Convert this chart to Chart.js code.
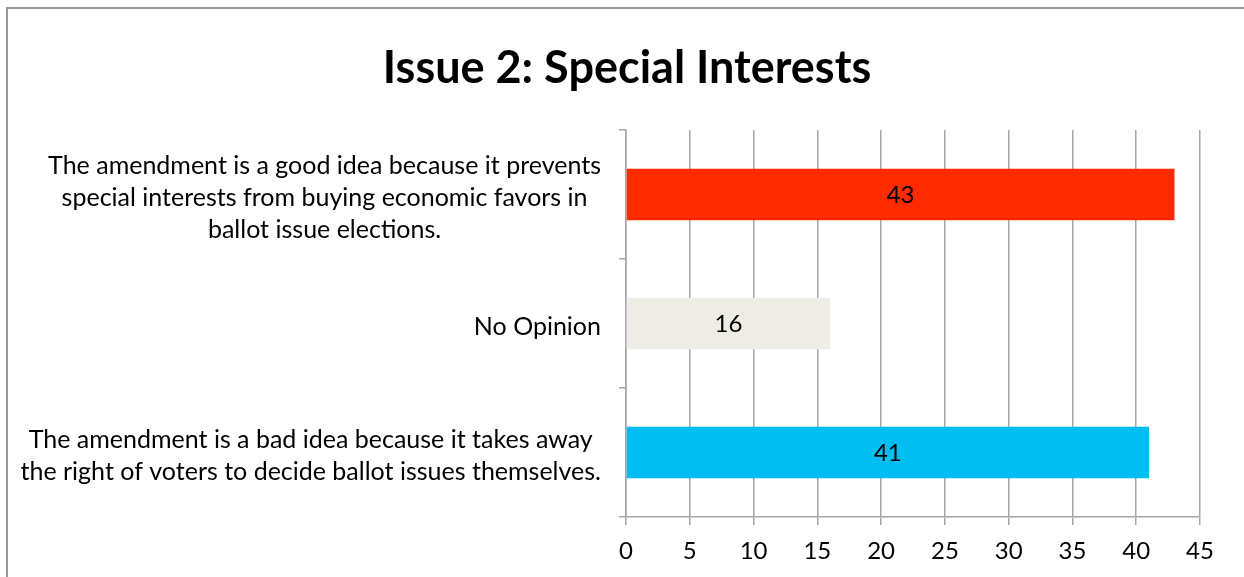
<!DOCTYPE html>
<html>
<head>
<meta charset="utf-8">
<script src="https://cdn.jsdelivr.net/npm/chart.js@4"></script>
<style>
  html, body { margin: 0; padding: 0; background: #fff; }
  #wrap { width: 1244px; height: 577px; position: relative; }
</style>
</head>
<body>
<div id="wrap"><canvas id="issueCanvas"></canvas></div>
<script>
const categories = [
    ["The amendment is a good idea because it prevents",
     "special interests from buying economic favors in",
     "ballot issue elections."],
    ["No Opinion"],
    ["The amendment is a bad idea because it takes away",
     "the right of voters to decide ballot issues themselves."]
];
const values = [43, 16, 41];
const barColors = ["#ff2a00", "#eeede5", "#00bdf2"];
const xTicks = [0, 5, 10, 15, 20, 25, 30, 35, 40, 45];
const chartTitle = "Issue 2: Special Interests";

const FONT = "Lato, 'Open Sans', sans-serif";
const GRID = "#a6a6a6";

// frame line along the top and left edge, plus the title
const framePlugin = {
    id: "frame",
    beforeDraw(chart) {
        const ctx = chart.ctx;
        ctx.save();
        ctx.strokeStyle = "#9a9a9a";
        ctx.lineWidth = 2;
        ctx.beginPath();
        ctx.moveTo(7, chart.height);
        ctx.lineTo(7, 8);
        ctx.lineTo(chart.width, 8);
        ctx.stroke();
        ctx.font = "bold 45px " + FONT;
        ctx.fillStyle = "#000";
        ctx.textAlign = "center";
        ctx.textBaseline = "middle";
        ctx.fillText(chartTitle, 627, 68);
        ctx.restore();
    }
};

// category labels: block right-aligned against the axis, lines centred in the block
const categoryLabels = {
    id: "categoryLabels",
    afterDraw(chart) {
        const ctx = chart.ctx;
        const yScale = chart.scales.y;
        const right = chart.chartArea.left - 25;
        const lineH = 32;
        ctx.save();
        ctx.font = "25px " + FONT;
        ctx.fillStyle = "#000";
        ctx.textAlign = "center";
        ctx.textBaseline = "middle";
        categories.forEach((lines, i) => {
            const y = yScale.getPixelForValue(i) + 3;
            const w = Math.max(...lines.map(l => ctx.measureText(l).width));
            const cx = right - w / 2;
            const top = y - (lines.length - 1) * lineH / 2;
            lines.forEach((l, j) => ctx.fillText(l, cx, top + j * lineH));
        });
        ctx.restore();
    }
};

// value printed in the middle of each bar
const barValues = {
    id: "barValues",
    afterDatasetsDraw(chart) {
        const ctx = chart.ctx;
        const meta = chart.getDatasetMeta(0);
        ctx.save();
        ctx.font = "24px " + FONT;
        ctx.fillStyle = "#000";
        ctx.textAlign = "center";
        ctx.textBaseline = "middle";
        meta.data.forEach((bar, i) => {
            const p = bar.getProps(["x", "y", "base"], true);
            ctx.fillText(String(values[i]), (p.x + p.base) / 2, p.y + 1);
        });
        ctx.restore();
    }
};

const issueChart = new Chart(document.getElementById("issueCanvas"), {
    type: "bar",
    data: {
        labels: categories.map(c => c.join(" ")),
        datasets: [{
            data: values,
            backgroundColor: barColors,
            borderWidth: 0,
            barPercentage: 0.8,
            categoryPercentage: 0.5
        }]
    },
    options: {
        indexAxis: "y",
        responsive: true,
        maintainAspectRatio: false,
        animation: false,
        layout: {
            padding: { top: 130, left: 0, right: 44, bottom: 0 }
        },
        plugins: {
            legend: { display: false },
            tooltip: { enabled: false },
            title: { display: false }
        },
        scales: {
            x: {
                min: 0,
                max: 45,
                afterBuildTicks(scale) {
                    scale.ticks = xTicks.map(v => ({ value: v }));
                },
                afterFit(scale) { scale.height = 60; },
                grid: { color: GRID, lineWidth: 1.5, tickLength: 8 },
                border: { color: GRID, width: 1.5 },
                ticks: {
                    color: "#000",
                    padding: 12,
                    font: { family: FONT, size: 24 }
                }
            },
            y: {
                afterFit(scale) { scale.width = 626; },
                grid: { color: GRID, lineWidth: 1.5, drawOnChartArea: false, tickLength: 7, offset: true },
                border: { color: GRID, width: 1.5 },
                ticks: { display: false }
            }
        }
    },
    plugins: [framePlugin, categoryLabels, barValues]
});
</script>
</body>
</html>
